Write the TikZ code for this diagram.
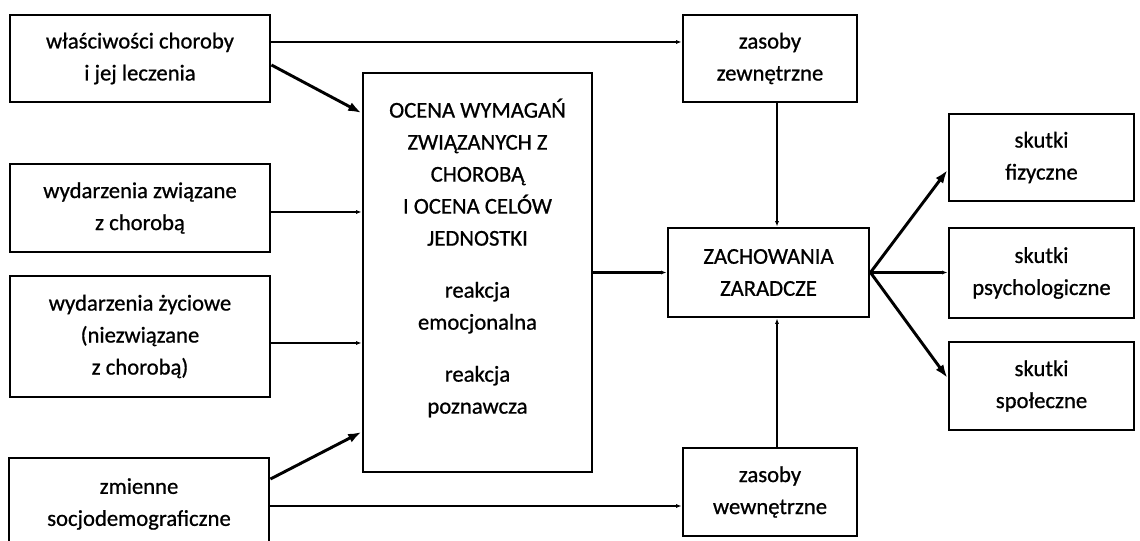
\documentclass[tikz,border=0pt]{standalone}
\usepackage{fontspec}
\setmainfont{Carlito}[FakeBold=0.8]
\usetikzlibrary{arrows.meta}

\tikzset{every picture/.style={line width=2.2pt}}
\tikzset{
	box/.style={draw, rectangle, inner sep=0.75pt, align=center, font=\fontsize{17}{24}\selectfont},
	txt/.style={inner sep=0.75pt, align=center, font=\fontsize{17}{24}\selectfont},
	arrsmall/.style={-{Latex[length=4pt,width=3pt]}},
	arrbig/.style={-{Latex[length=10pt,width=7pt]}},
}

\begin{document}
\begin{tikzpicture}[x=0.75pt,y=0.75pt,yscale=-1,xscale=1]
		\clip (0,0) rectangle (1140,541);
		
		%Shape: left column
		\node [box, minimum width=195pt, minimum height=65.25pt] (wlasc) at (140,58.5) {właściwości choroby\\i jej leczenia};
		\node [box, minimum width=195pt, minimum height=66pt] (wydch) at (140,208) {wydarzenia związane\\z chorobą};
		\node [box, minimum width=195pt, minimum height=90.75pt] (wydzy) at (140,336.5) {wydarzenia życiowe\\(niezwiązane\\z chorobą)};
		\node [box, minimum width=195pt, minimum height=69pt] (zmien) at (139,504) {zmienne\\socjodemograficzne};
		
		%Shape: appraisal
		\node [box, minimum width=171.75pt, minimum height=299.25pt] (ocena) at (477.5,272.5) {};
		\node [txt] (ocenatxt) at (477.5,258) {OCENA WYMAGAŃ\\ZWIĄZANYCH Z\\CHOROBĄ\\I OCENA CELÓW\\JEDNOSTKI\\[15pt]reakcja\\emocjonalna\\[15pt]reakcja\\poznawcza};
		
		%Shape: coping and resources
		\node [box, minimum width=130.5pt, minimum height=65.25pt] (zewn) at (770,58.5) {zasoby\\zewnętrzne};
		\node [box, minimum width=150.75pt, minimum height=66.75pt] (zach) at (768.5,272.5) {ZACHOWANIA\\ZARADCZE};
		\node [box, minimum width=130.5pt, minimum height=66pt] (wewn) at (770,492) {zasoby\\wewnętrzne};
		
		%Shape: outcomes
		\node [box, minimum width=138.75pt, minimum height=65.25pt] (fiz) at (1041.5,157.5) {skutki\\fizyczne};
		\node [box, minimum width=138.75pt, minimum height=67.5pt] (psych) at (1041.5,273) {skutki\\psychologiczne};
		\node [box, minimum width=138.75pt, minimum height=66pt] (spol) at (1041.5,386) {skutki\\społeczne};
		
		%Connectors
		\draw [arrsmall] (wlasc.east |- 0,42) -- (zewn.west |- 0,42);
		\draw [arrbig] (wlasc.east |- 0,65) -- (ocena.west |- 0,113);
		\draw [arrsmall] (wydch.east |- 0,212) -- (ocena.west |- 0,212);
		\draw [arrsmall] (wydzy.east |- 0,343) -- (ocena.west |- 0,343);
		\draw [arrbig] (zmien.east |- 0,479) -- (ocena.west |- 0,432);
		\draw [arrsmall] (zmien.east |- 0,506) -- (wewn.west |- 0,506);
		\draw [arrsmall] (ocena.east) -- (zach.west);
		\draw [arrsmall] (777,0 |- zewn.south) -- (777,0 |- zach.north);
		\draw [arrsmall] (777,0 |- wewn.north) -- (777,0 |- zach.south);
		\draw [arrbig] (zach.east) -- (fiz.west |- 0,170);
		\draw [arrsmall] (zach.east) -- (zach.east -| psych.west);
		\draw [arrbig] (zach.east) -- (spol.west |- 0,378);
		
	\end{tikzpicture}
\end{document}
